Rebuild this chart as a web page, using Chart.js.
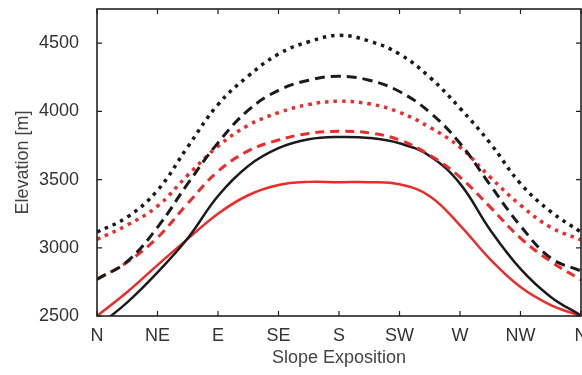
<!DOCTYPE html>
<html>
<head>
<meta charset="utf-8">
<script src="https://cdn.jsdelivr.net/npm/chart.js@4/dist/chart.umd.min.js"></script>
<style>
  html, body { margin: 0; padding: 0; background: #fff; }
  #wrap { width: 582px; height: 375px; position: relative; }
</style>
</head>
<body>
<div id="wrap"><canvas id="elevChart"></canvas></div>
<script>
// Slope exposition in degrees, sampled every 22.5 deg
const angles = [0, 22.5, 45, 67.5, 90, 112.5, 135, 157.5, 180, 202.5, 225, 247.5, 270, 292.5, 315, 337.5, 360];
const tickLabels = ['N', 'NE', 'E', 'SE', 'S', 'SW', 'W', 'NW', 'N'];
const yTicks = [2500, 3000, 3500, 4000, 4500];

// Elevation values [m]
const blackDotted = [3115, 3225, 3420, 3740, 4050, 4259, 4420, 4510, 4557, 4515, 4420, 4250, 4023, 3766, 3470, 3265, 3115];
const blackDashed = [2770, 2900, 3150, 3470, 3769, 4008, 4154, 4228, 4257, 4228, 4145, 3993, 3766, 3459, 3160, 2925, 2830];
const redDotted   = [3062, 3166, 3305, 3532, 3744, 3898, 3990, 4050, 4074, 4055, 3993, 3883, 3737, 3517, 3312, 3150, 3058];
const redDashed   = [2768, 2895, 3075, 3325, 3560, 3710, 3790, 3838, 3854, 3842, 3790, 3679, 3518, 3298, 3071, 2900, 2765];
const blackSolid  = [2420, 2600, 2820, 3070, 3380, 3600, 3730, 3795, 3812, 3805, 3766, 3673, 3470, 3130, 2845, 2640, 2504];
const redSolid    = [2500, 2676, 2873, 3065, 3250, 3385, 3460, 3483, 3481, 3481, 3465, 3378, 3165, 2915, 2712, 2580, 2500];

const BLACK = '#1b1b1b';
const RED = '#ee2b2b';
const FONT = 'Liberation Sans, Arial, sans-serif';

function series(values, color, dash, width) {
    return {
        data: angles.map((a, i) => ({x: a, y: values[i]})),
        borderColor: color,
        borderWidth: width,
        borderDash: dash,
        pointRadius: 0,
        fill: false,
        tension: 0.4
    };
}

// frame with inward ticks on all four sides
const framePlugin = {
    id: 'frame',
    afterDraw(chart) {
        const {ctx, chartArea: a, scales} = chart;
        ctx.save();
        ctx.strokeStyle = '#222';
        ctx.lineWidth = 1.6;
        ctx.strokeRect(a.left, a.top, a.right - a.left, a.bottom - a.top);
        ctx.lineWidth = 1.2;
        ctx.beginPath();
        scales.x.ticks.forEach(t => {
            const px = scales.x.getPixelForValue(t.value);
            ctx.moveTo(px, a.bottom); ctx.lineTo(px, a.bottom - 5);
            ctx.moveTo(px, a.top); ctx.lineTo(px, a.top + 5);
        });
        scales.y.ticks.forEach(t => {
            const py = scales.y.getPixelForValue(t.value);
            ctx.moveTo(a.left, py); ctx.lineTo(a.left + 5, py);
            ctx.moveTo(a.right, py); ctx.lineTo(a.right - 5, py);
        });
        ctx.stroke();
        ctx.restore();
    }
};

new Chart(document.getElementById('elevChart').getContext('2d'), {
    type: 'line',
    data: {
        datasets: [
            series(blackDotted, BLACK, [3.5, 5], 3.5),
            series(blackDashed, BLACK, [10, 6], 3),
            series(redDotted, RED, [3.5, 5], 3.5),
            series(redDashed, RED, [9, 6], 3),
            series(blackSolid, BLACK, [], 2.5),
            series(redSolid, RED, [], 2.5)
        ]
    },
    options: {
        responsive: true,
        maintainAspectRatio: false,
        animation: false,
        layout: { padding: { top: 9, right: 1, bottom: 0, left: 0 } },
        plugins: {
            legend: { display: false },
            tooltip: { enabled: false }
        },
        scales: {
            x: {
                type: 'linear',
                min: 0,
                max: 360,
                grid: { display: false },
                border: { display: false },
                afterFit(scale) {
                    scale.height = 59;
                    scale.paddingLeft = 0;
                    scale.paddingRight = 0;
                },
                afterBuildTicks(scale) {
                    scale.ticks = tickLabels.map((l, i) => ({value: i * 45}));
                },
                ticks: {
                    autoSkip: false,
                    maxRotation: 0,
                    padding: 1,
                    color: '#333',
                    font: { family: FONT, size: 18 },
                    callback: (v) => tickLabels[Math.round(v / 45)]
                },
                title: {
                    display: true,
                    text: 'Slope Exposition',
                    color: '#444',
                    padding: { top: 0, bottom: 6 },
                    font: { family: FONT, size: 18 }
                }
            },
            y: {
                min: 2500,
                max: 4750,
                grid: { display: false },
                border: { display: false },
                afterFit(scale) {
                    scale.width = 97;
                    scale.paddingTop = 0;
                    scale.paddingBottom = 0;
                },
                afterBuildTicks(scale) {
                    scale.ticks = yTicks.map(v => ({value: v}));
                },
                ticks: {
                    padding: 10,
                    color: '#333',
                    font: { family: FONT, size: 18 },
                    callback: (v) => String(v)
                },
                title: {
                    display: true,
                    text: 'Elevation [m]',
                    color: '#444',
                    padding: { top: 12, bottom: 0 },
                    font: { family: FONT, size: 18 }
                }
            }
        }
    },
    plugins: [framePlugin]
});
</script>
</body>
</html>
